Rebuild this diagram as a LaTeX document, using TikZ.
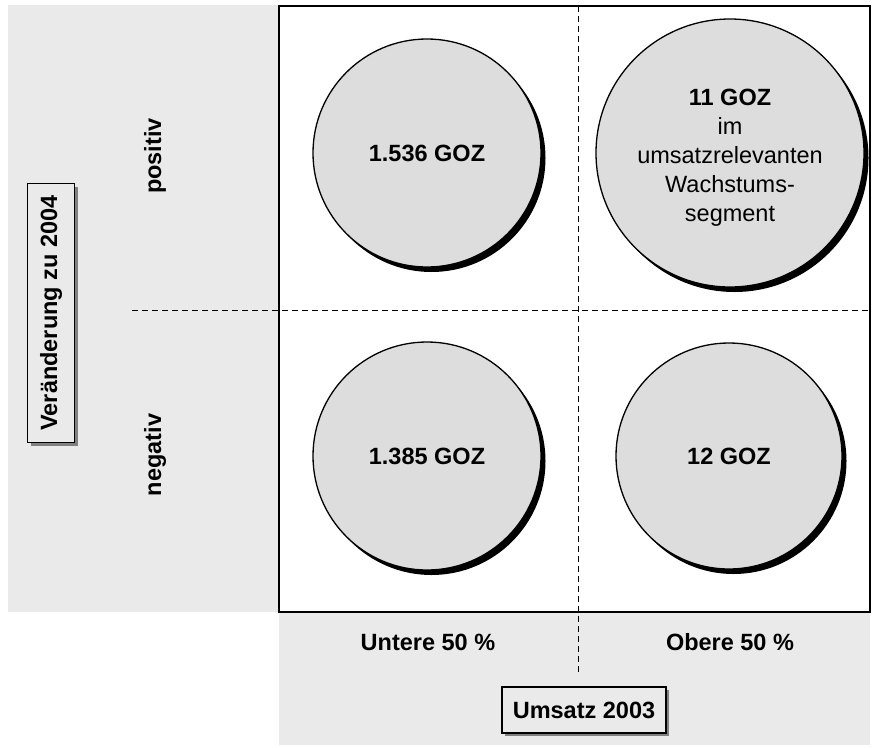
\documentclass[tikz,border=0pt]{standalone}
\usepackage{fontspec}
\setmainfont{Liberation Sans}
\usetikzlibrary{shadows}
\definecolor{panelgray}{HTML}{EAEAEA}
\definecolor{circgray}{HTML}{DDDDDD}
\begin{document}
\begin{tikzpicture}[x=1pt,y=-1pt,
  lbl/.style={font=\fontsize{23.5}{29}\selectfont\bfseries, inner sep=0pt},
  bubble/.style={circle, draw=black, line width=1.3pt, fill=circgray, inner sep=0pt,
    drop shadow={shadow xshift=4.5pt, shadow yshift=-5pt, fill=black, opacity=1}},
  axisbox/.style={draw=black, line width=1.2pt, fill=panelgray, inner sep=0pt,
    font=\fontsize{23.5}{29}\selectfont\bfseries,
    drop shadow={shadow xshift=3pt, shadow yshift=-3pt, fill=black!50, opacity=1}},
  divider/.style={line width=1pt, dash pattern=on 6pt off 4pt}
]
\useasboundingbox (0,0) rectangle (872,747);
% grey panels
\fill[panelgray] (8,5) rectangle (279,612);
\fill[panelgray] (279,612) rectangle (870,745);
% main frame
\fill[white] (279,6) rectangle (870,612);
% divider coordinates
\coordinate (vtop) at (578,6);
\coordinate (vbot) at (578,675);
\coordinate (hleft) at (132,310);
\coordinate (hright) at (870,310);
\draw[divider] (vtop) -- (vbot);
\draw[divider] (hleft) -- (hright);
\draw[line width=2.5pt] (279,6) rectangle (870,612);
% bubbles
\node[bubble, minimum size=228pt] (tl) at (427,153) {};
\node[bubble, minimum size=228pt] (bl) at (427,456) {};
\node[bubble, minimum size=268pt] (tr) at (730,153) {};
\node[bubble, minimum size=226pt] (br) at (729,456) {};
\node[lbl] (tltext) at (tl) {1.536 GOZ};
\node[lbl] (bltext) at (bl) {1.385 GOZ};
\node[lbl] (brtext) at (br) {12 GOZ};
\node[lbl, align=center, font=\fontsize{23.5}{29}\selectfont] (trtext) at (730,158)
  {\textbf{11 GOZ}\\im\\umsatzrelevanten\\Wachstums-\\segment};
% axis labels
\node[lbl, rotate=90] (pos) at (155,156) {positiv};
\node[lbl, rotate=90] (neg) at (155,455) {negativ};
\node[lbl] (unt) at (428,642) {Untere 50 \%};
\node[lbl] (obe) at (730,642) {Obere 50 \%};
\node[axisbox, rotate=90, minimum width=259pt, minimum height=47pt] (yax) at (51,313) {Veränderung zu 2004};
\node[axisbox, minimum width=164pt, minimum height=46pt] (xax) at (584,710) {Umsatz 2003};
\end{tikzpicture}
\end{document}
